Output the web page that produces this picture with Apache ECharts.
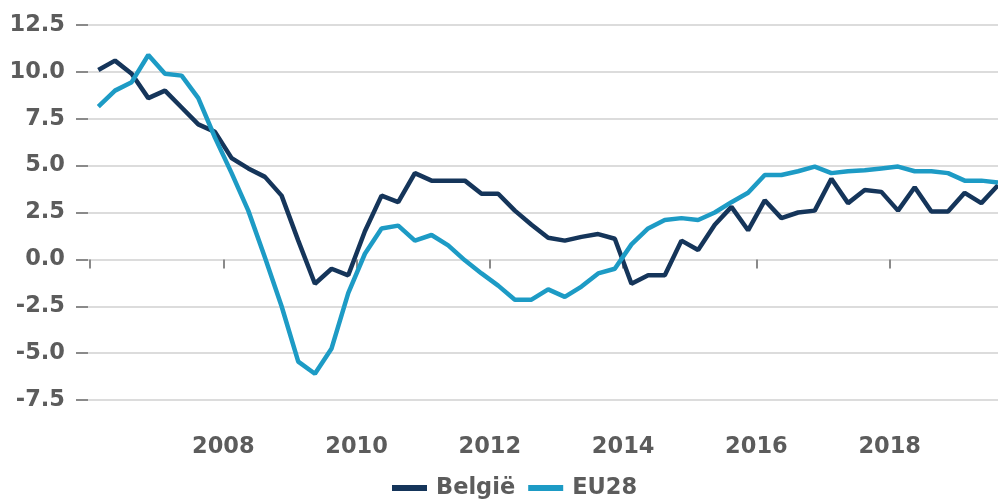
<!DOCTYPE html>
<html>
<head>
<meta charset="utf-8">
<script src="https://cdn.jsdelivr.net/npm/echarts@6/dist/echarts.min.js"></script>
<style>
  html, body { margin: 0; padding: 0; background: #ffffff; }
  #chart { width: 998px; height: 501px; }
</style>
</head>
<body>
<div id="chart"></div>
<script>
// Quarterly growth rates (%), 2006 Q1 – 2019 Q3
const firstYear = 2006;
const seriesNames = ['België', 'EU28'];

const belgie = [
  10.1, 10.6, 9.9, 8.6, 9.0, 8.1, 7.2, 6.8,
  5.4, 4.85, 4.4, 3.4, 1.0, -1.3, -0.5, -0.85,
  1.5, 3.4, 3.05, 4.6, 4.2, 4.2, 4.2, 3.5,
  3.5, 2.6, 1.85, 1.15, 1.0, 1.2, 1.35, 1.1,
  -1.3, -0.85, -0.85, 1.0, 0.5, 1.85, 2.8, 1.55,
  3.15, 2.2, 2.5, 2.6, 4.3, 3.0, 3.7, 3.6,
  2.6, 3.85, 2.55, 2.55, 3.55, 3.0, 3.95
];

const eu28 = [
  8.15, 9.0, 9.45, 10.9, 9.9, 9.8, 8.6, 6.5,
  4.6, 2.6, 0.1, -2.5, -5.45, -6.1, -4.75, -1.8,
  0.3, 1.65, 1.8, 1.0, 1.3, 0.75, -0.05, -0.75,
  -1.4, -2.15, -2.15, -1.6, -2.0, -1.45, -0.75, -0.5,
  0.8, 1.65, 2.1, 2.2, 2.1, 2.5, 3.05, 3.55,
  4.5, 4.5, 4.7, 4.95, 4.6, 4.7, 4.75, 4.85,
  4.95, 4.7, 4.7, 4.6, 4.2, 4.2, 4.1
];

const lastYearPos = 2019.625;
const yearTicks = [2006, 2008, 2010, 2012, 2014, 2016, 2018];
const yearLabels = [2008, 2010, 2012, 2014, 2016, 2018];

// place each quarter at its midpoint on the time axis
function toPoints(values) {
  return values.map((v, i) => [firstYear + (i + 0.5) / 4, v]);
}

const textColor = '#5c5c5c';
const tickColor = '#8a8a8a';
const fontFamily = '"DejaVu Sans", sans-serif';
const fontSize = 22.5;

const chart = echarts.init(document.getElementById('chart'), null, { renderer: 'canvas' });

chart.setOption({
  animation: false,
  backgroundColor: '#ffffff',
  grid: { left: 88, right: 0, top: 25, bottom: 101, containLabel: false },
  legend: {
    left: 392,
    top: 475,
    padding: 0,
    itemWidth: 35,
    itemHeight: 6,
    itemGap: 13,
    icon: 'rect',
    data: seriesNames,
    textStyle: {
      color: textColor,
      fontFamily: fontFamily,
      fontWeight: 'bold',
      fontSize: fontSize,
      lineHeight: 26,
      padding: [0, 0, 0, 4]
    }
  },
  xAxis: {
    type: 'value',
    min: 2005.97,
    max: lastYearPos,
    offset: 18,
    splitLine: { show: false },
    axisLine: { show: false },
    axisTick: {
      show: true,
      length: 9,
      customValues: yearTicks,
      lineStyle: { color: tickColor, width: 2 }
    },
    axisLabel: {
      customValues: yearLabels,
      margin: 18,
      color: textColor,
      fontFamily: fontFamily,
      fontWeight: 'bold',
      fontSize: fontSize,
      formatter: v => String(v)
    }
  },
  yAxis: {
    type: 'value',
    min: -7.5,
    max: 12.5,
    interval: 2.5,
    axisLine: { show: false },
    axisTick: {
      show: true,
      length: 12,
      lineStyle: { color: tickColor, width: 2 }
    },
    splitLine: { lineStyle: { color: '#dcdcdc', width: 2 } },
    axisLabel: {
      margin: 23,
      color: textColor,
      fontFamily: fontFamily,
      fontWeight: 'bold',
      fontSize: fontSize,
      formatter: v => v.toFixed(1)
    }
  },
  series: [
    {
      name: seriesNames[0],
      type: 'line',
      data: toPoints(belgie),
      showSymbol: false,
      color: '#15355a',
      lineStyle: { width: 4.5, color: '#15355a' }
    },
    {
      name: seriesNames[1],
      type: 'line',
      data: toPoints(eu28),
      showSymbol: false,
      color: '#1d9bc5',
      lineStyle: { width: 4.5, color: '#1d9bc5' }
    }
  ]
});
</script>
</body>
</html>
